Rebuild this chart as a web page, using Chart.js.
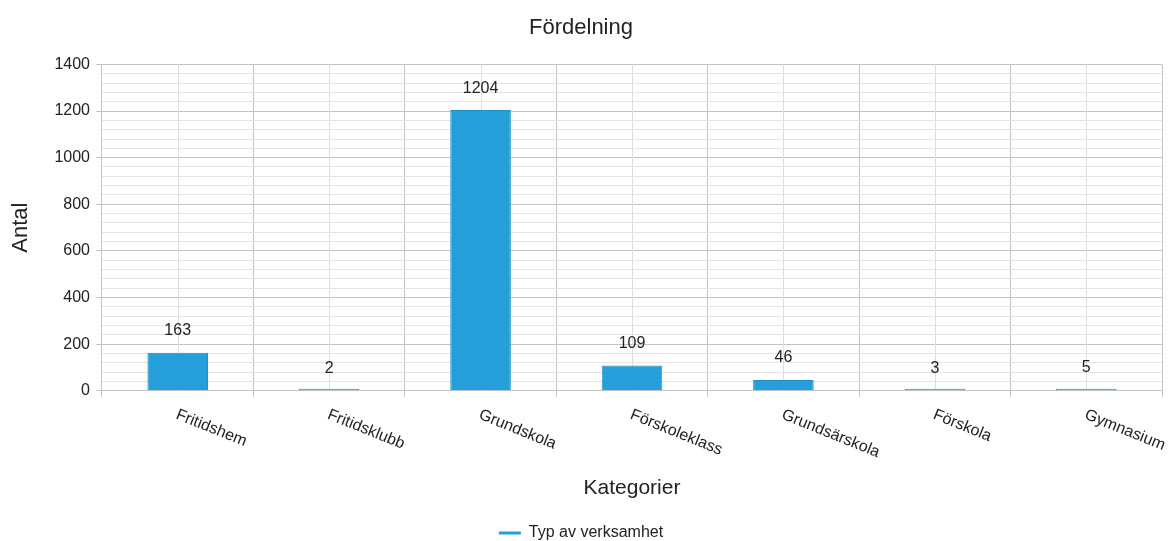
<!DOCTYPE html>
<html lang="sv">
<head>
<meta charset="utf-8">
<title>Fördelning</title>
<script src="https://cdn.jsdelivr.net/npm/chart.js@4.4.1/dist/chart.umd.min.js"></script>
<style>
  html, body { margin: 0; padding: 0; background: #ffffff; }
  #wrap { width: 1170px; height: 541px; }
</style>
</head>
<body>
<div id="wrap"><canvas id="fordelning"></canvas></div>
<script>
window.addEventListener("load", (event) => {

    // Categories and counts
    const kategorier = ['Fritidshem', 'Fritidsklubb', 'Grundskola', 'Förskoleklass', 'Grundsärskola', 'Förskola', 'Gymnasium'];
    const antal = [163, 2, 1204, 109, 46, 3, 5];

    const fontFamily = '"Liberation Sans", Arial, sans-serif';
    const textColor = '#222222';
    const majorLine = '#c4c4c4';
    const minorLine = '#e4e4e4';

    // Lighter vertical lines through the middle of every category
    const centerLines = {
        id: 'centerLines',
        beforeDatasetsDraw(chart) {
            const x = chart.scales.x;
            const area = chart.chartArea;
            const c = chart.ctx;
            c.save();
            c.strokeStyle = '#dedede';
            c.lineWidth = 1;
            for (let i = 0; i < kategorier.length; i++) {
                const px = Math.round(x.getPixelForValue(i)) + 0.5;
                c.beginPath();
                c.moveTo(px, area.top);
                c.lineTo(px, area.bottom);
                c.stroke();
            }
            c.restore();
        }
    };

    // Value above each bar and slanted category names under the axis
    const labels = {
        id: 'labels',
        afterDatasetsDraw(chart) {
            const c = chart.ctx;
            const meta = chart.getDatasetMeta(0);
            c.save();
            c.font = '16px ' + fontFamily;
            c.fillStyle = textColor;
            c.textAlign = 'center';
            c.textBaseline = 'middle';
            meta.data.forEach((bar, i) => {
                const top = chart.scales.y.getPixelForValue(antal[i]);
                c.fillText(String(antal[i]), bar.x, top - 22);
            });

            const x = chart.scales.x;
            c.textAlign = 'left';
            c.textBaseline = 'top';
            kategorier.forEach((name, i) => {
                c.save();
                c.translate(x.getPixelForValue(i) + 2, x.top + 16);
                c.rotate(22 * Math.PI / 180);
                c.fillText(name, 0, 0);
                c.restore();
            });
            c.restore();
        }
    };

    var ctx = document.getElementById('fordelning');

    new Chart(ctx, {
        type: 'bar',
        data: {
            labels: kategorier,
            datasets: [{
                label: 'Typ av verksamhet',
                data: antal,
                backgroundColor: '#259fd9',
                borderColor: '#2091c8',
                borderWidth: 1,
                minBarLength: 2,
                barPercentage: 0.4,
                categoryPercentage: 1
            }]
        },
        options: {
            responsive: true,
            maintainAspectRatio: false,
            animation: false,
            layout: {
                padding: { left: 0, right: 8, top: 0, bottom: -10 }
            },
            plugins: {
                title: {
                    display: true,
                    text: 'Fördelning',
                    color: textColor,
                    font: { family: fontFamily, size: 22, weight: 'normal' },
                    padding: { top: 15, bottom: 23 }
                },
                legend: {
                    position: 'bottom',
                    labels: {
                        color: textColor,
                        font: { family: fontFamily, size: 16 },
                        usePointStyle: true,
                        pointStyleWidth: 22,
                        padding: 4,
                        generateLabels: () => [{
                            text: 'Typ av verksamhet',
                            fillStyle: '#259fd9',
                            strokeStyle: '#259fd9',
                            lineWidth: 3,
                            pointStyle: 'line',
                            fontColor: textColor,
                            datasetIndex: 0
                        }]
                    }
                },
                tooltip: { enabled: false }
            },
            scales: {
                x: {
                    grid: {
                        offset: true,
                        color: majorLine,
                        tickColor: majorLine,
                        tickLength: 6
                    },
                    border: { color: majorLine },
                    ticks: { display: false },
                    title: {
                        display: true,
                        text: 'Kategorier',
                        color: textColor,
                        font: { family: fontFamily, size: 21 },
                        padding: { top: 79, bottom: 20 }
                    }
                },
                y: {
                    min: 0,
                    max: 1400,
                    grid: {
                        color: (c) => c.tick && c.tick.value % 200 === 0 ? majorLine : minorLine,
                        tickColor: (c) => c.tick && c.tick.value % 200 === 0 ? majorLine : 'rgba(0,0,0,0)',
                        tickLength: 6
                    },
                    border: { color: majorLine },
                    ticks: {
                        stepSize: 40,
                        autoSkip: false,
                        color: textColor,
                        padding: 6,
                        font: { family: fontFamily, size: 16 },
                        callback: (v) => v % 200 === 0 ? v : ''
                    },
                    title: {
                        display: true,
                        text: 'Antal',
                        color: textColor,
                        font: { family: fontFamily, size: 22 },
                        padding: { top: 8, bottom: 14 }
                    }
                }
            }
        },
        plugins: [centerLines, labels]
    })

});
</script>
</body>
</html>
